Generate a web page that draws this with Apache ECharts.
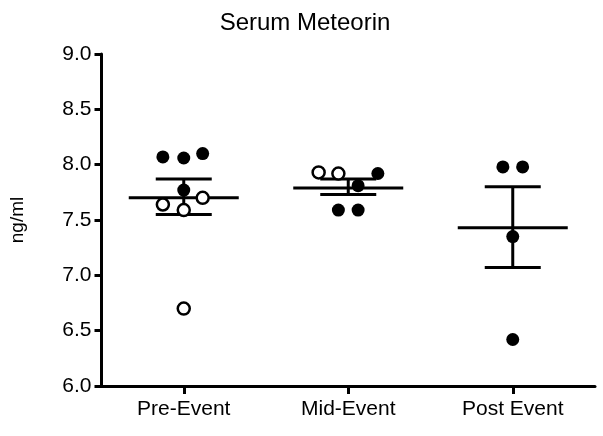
<!DOCTYPE html>
<html><head><meta charset="utf-8">
<script src="https://cdn.jsdelivr.net/npm/echarts@6/dist/echarts.min.js"></script>
<style>html,body{margin:0;background:#fff}#c{width:603px;height:436px}</style>
</head><body><div id="c"></div>
<script>
const groups = ["Pre-Event", "Mid-Event", "Post Event"];
const yTicks = [6.0, 6.5, 7.0, 7.5, 8.0, 8.5, 9.0];
// [group index + jitter, value]
const filledPts = [
  [0.873, 8.07], [1, 8.06], [1.115, 8.10], [1, 7.77],
  [2.06, 7.81], [2.18, 7.92], [1.94, 7.59], [2.06, 7.59],
  [2.94, 7.98], [3.06, 7.98], [3, 7.35], [3, 6.42]
];
const openPts = [
  [0.873, 7.64], [1, 7.59], [1.115, 7.70], [1, 6.70],
  [1.82, 7.93], [1.94, 7.92]
];
// [group position, mean, sem low, sem high]
const meanSem = [
  [1, 7.70, 7.55, 7.87],
  [2, 7.79, 7.73, 7.87],
  [3, 7.43, 7.07, 7.80]
];

const chart = echarts.init(document.getElementById("c"));
const font = "Liberation Sans";
chart.setOption({
  animation: false,
  title: { text: "Serum Meteorin", left: 300, textAlign: "center", top: 6,
    textStyle: { fontFamily: font, fontSize: 24, fontWeight: "normal", color: "#000" } },
  grid: { left: 101.5, right: 8, top: 54, bottom: 50 },
  xAxis: {
    type: "value", min: 0.5, max: 3.5, interval: 0.5,
    axisLine: { lineStyle: { color: "#000", width: 3 } },
    axisTick: { length: 8, lineStyle: { width: 3, color: "#000" },
      customValues: [1, 2, 3] },
    axisLabel: { customValues: [1, 2, 3], formatter: v => groups[Math.round(v) - 1],
      fontFamily: font, fontSize: 21, color: "#000", margin: 13 },
    splitLine: { show: false }
  },
  yAxis: {
    type: "value", min: 6, max: 9, interval: 0.5,
    name: "ng/ml", nameLocation: "middle", nameGap: 74, nameRotate: 90,
    nameTextStyle: { fontFamily: font, fontSize: 19, color: "#000" },
    axisLine: { show: true, lineStyle: { color: "#000", width: 3 } },
    axisTick: { show: true, length: 7, lineStyle: { width: 3, color: "#000" } },
    axisLabel: { formatter: v => v.toFixed(1), fontFamily: font, fontSize: 21, color: "#000", margin: 10 },
    splitLine: { show: false }
  },
  series: [
    {
      type: "custom", data: meanSem, z: 3,
      renderItem: (params, api) => {
        const x = api.value(0);
        const m = api.coord([x, api.value(1)]);
        const lo = api.coord([x, api.value(2)]);
        const hi = api.coord([x, api.value(3)]);
        const st = { stroke: "#000", lineWidth: 3 };
        return { type: "group", children: [
          { type: "line", shape: { x1: m[0] - 55, y1: m[1], x2: m[0] + 55, y2: m[1] }, style: st },
          { type: "line", shape: { x1: lo[0], y1: lo[1], x2: hi[0], y2: hi[1] }, style: st },
          { type: "line", shape: { x1: lo[0] - 28, y1: lo[1], x2: lo[0] + 28, y2: lo[1] }, style: st },
          { type: "line", shape: { x1: hi[0] - 28, y1: hi[1], x2: hi[0] + 28, y2: hi[1] }, style: st }
        ] };
      }
    },
    { type: "scatter", data: filledPts, symbolSize: 13, z: 4,
      itemStyle: { color: "#000", opacity: 1 } },
    { type: "scatter", data: openPts, symbolSize: 12, z: 4,
      itemStyle: { color: "#fff", borderColor: "#000", borderWidth: 2.5, opacity: 1 } }
  ]
});
</script></body></html>
